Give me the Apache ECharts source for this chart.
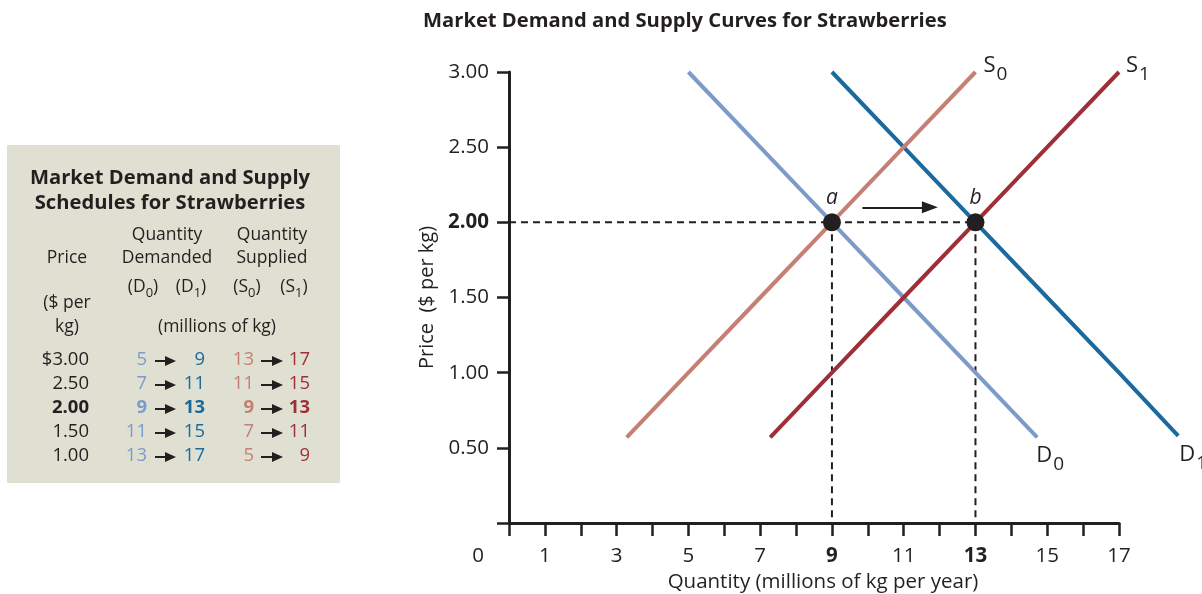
<!DOCTYPE html>
<html>
<head>
<meta charset="utf-8">
<script src="https://cdn.jsdelivr.net/npm/echarts@6/dist/echarts.min.js"></script>
<style>
  html, body { margin: 0; padding: 0; background: #ffffff; }
  #chart { width: 1202px; height: 594px; }
</style>
</head>
<body>
<div id="chart"></div>
<script>
// Demand and supply schedules: price ($ per kg) and quantities (millions of kg)
const prices   = [3.00, 2.50, 2.00, 1.50, 1.00];
const demandD0 = [5, 7, 9, 11, 13];
const demandD1 = [9, 11, 13, 15, 17];
const supplyS0 = [13, 11, 9, 7, 5];
const supplyS1 = [17, 15, 13, 11, 9];

// Lower ends of the drawn curves, [quantity, price]
const endD0 = [14.72, 0.57];
const endD1 = [18.65, 0.58];
const endS0 = [3.28, 0.57];
const endS1 = [7.28, 0.57];

// Equilibrium points a and b
const eqPrice = 2.00;
const eqQty   = [9, 13];
const eqNames = ['a', 'b'];

// Arrow showing the shift from a to b, [quantity, price]
const shiftArrow = [[9.85, 2.1], [11.73, 2.1]];

// Axis tick labels
const xTickLabels = [0, 1, 3, 5, 7, 9, 11, 13, 15, 17];
const yTickLabels = [0.5, 1, 1.5, 2, 2.5, 3];

// Text
const chartTitle = 'Market Demand and Supply Curves for Strawberries';
const xName = 'Quantity (millions of kg per year)';
const yName = 'Price  ($ per kg)';
const tableTitle = ['Market Demand and Supply', 'Schedules for Strawberries'];

// Styles
const FONT = '"Open Sans", "Liberation Sans", sans-serif';
const INK = '#231f20';
const PANEL = '#dfe0d1';
const C_D0 = '#7d9bc8';
const C_D1 = '#1a6a9e';
const C_S0 = '#c67f74';
const C_S1 = '#9e2f36';
const TICK_SIZE = 20.5;

function curvePoints(qs, end) {
  const pts = prices.map((p, i) => [qs[i], p]);
  pts.push(end);
  return pts;
}

// Curves drawn as polylines so they may run past the last x tick
function curveSeries(name, qs, end, color) {
  return {
    type: 'lines', name: name, coordinateSystem: 'cartesian2d', polyline: true,
    clip: false, silent: true, z: 3,
    data: [{ coords: curvePoints(qs, end) }],
    effect: { show: false },
    lineStyle: { color: color, width: 4, opacity: 1, cap: 'butt' }
  };
}

// Curve name labels with a subscript
function curveLabelSeries(letter, sub, point, offset) {
  return {
    type: 'scatter', data: [point], symbolSize: 1, clip: false, silent: true, z: 6,
    itemStyle: { color: 'rgba(0,0,0,0)', opacity: 1 },
    label: {
      show: true, position: 'inside', align: 'left', verticalAlign: 'middle',
      offset: offset, opacity: 1, color: INK,
      formatter: '{m|' + letter + '}{s|' + sub + '}',
      rich: {
        m: { fontFamily: FONT, fontSize: 22, color: INK, lineHeight: 24 },
        s: { fontFamily: FONT, fontSize: 19, color: INK, lineHeight: 19, padding: [18, 0, 0, 1] }
      }
    }
  };
}

const series = [
  // dashed guides at the equilibrium price
  {
    type: 'line', data: [[0, eqPrice], [eqQty[1], eqPrice]], symbol: 'none', silent: true, z: 2,
    lineStyle: { color: INK, width: 2, type: [7, 5] }
  }
].concat(eqQty.map(q => ({
  type: 'line', data: [[q, eqPrice], [q, 0]], symbol: 'none', silent: true, z: 2,
  lineStyle: { color: INK, width: 2, type: [7, 5] }
}))).concat([
  curveSeries('D0', demandD0, endD0, C_D0),
  curveSeries('D1', demandD1, endD1, C_D1),
  curveSeries('S0', supplyS0, endS0, C_S0),
  curveSeries('S1', supplyS1, endS1, C_S1),
  curveLabelSeries('S', '0', [supplyS0[0], prices[0]], [8, -6]),
  curveLabelSeries('S', '1', [supplyS1[0], prices[0]], [7, -6]),
  curveLabelSeries('D', '0', endD0, [-1, 18]),
  curveLabelSeries('D', '1', endD1, [1, 19]),
  {
    type: 'scatter', z: 7, silent: true,
    data: eqQty.map((q, i) => ({ value: [q, eqPrice], name: eqNames[i] })),
    symbol: 'circle', symbolSize: 18,
    itemStyle: { color: INK, opacity: 1 },
    label: {
      show: true, position: 'top', distance: 5, formatter: '{b}',
      fontFamily: FONT, fontStyle: 'italic', fontSize: 21, color: INK
    },
    markLine: {
      silent: true, animation: false,
      symbol: ['none', 'triangle'], symbolSize: [12, 16],
      label: { show: false },
      lineStyle: { color: INK, width: 2, type: 'solid', opacity: 1 },
      itemStyle: { color: INK },
      emphasis: { disabled: true },
      data: [[{ coord: shiftArrow[0] }, { coord: shiftArrow[1] }]]
    }
  }
]);

// Schedule table panel
const g = [];
g.push({ type: 'rect', shape: { x: 7, y: 145, width: 333, height: 338 }, style: { fill: PANEL }, silent: true });

function txt(x, y, text, size, opts) {
  g.push({
    type: 'text', x: x, y: y, silent: true,
    style: Object.assign({
      text: text, fill: INK, fontSize: size, fontFamily: FONT, fontWeight: 'normal',
      align: 'center', verticalAlign: 'middle', textAlign: 'center', textVerticalAlign: 'middle'
    }, opts || {})
  });
}
function tArrow(x1, x2, y) {
  g.push({ type: 'line', silent: true, shape: { x1: x1, y1: y, x2: x2 - 8, y2: y }, style: { stroke: INK, lineWidth: 2 } });
  g.push({ type: 'polygon', silent: true, shape: { points: [[x2 - 11, y - 5], [x2, y], [x2 - 11, y + 5]] }, style: { fill: INK } });
}
function subText(x, y, letter, sub) {
  txt(x, y, '{p|(}{m|' + letter + '}{s|' + sub + '}{p|)}', 17.5, {
    rich: {
      p: { fontFamily: FONT, fontSize: 17.5, fill: INK, lineHeight: 20 },
      m: { fontFamily: FONT, fontSize: 17.5, fill: INK, lineHeight: 20 },
      s: { fontFamily: FONT, fontSize: 13, fill: INK, lineHeight: 13, padding: [12, 0, 0, 0] }
    }
  });
}

txt(170, 178, tableTitle[0], 20.2, { fontWeight: 'bold' });
txt(170, 203, tableTitle[1], 20.2, { fontWeight: 'bold' });
txt(167, 235, 'Quantity', 17.5);
txt(272, 235, 'Quantity', 17.5);
txt(67, 258, 'Price', 17.5);
txt(167, 258, 'Demanded', 17.5);
txt(272, 258, 'Supplied', 17.5);
subText(143, 287, 'D', '0');
subText(191, 287, 'D', '1');
subText(247, 287, 'S', '0');
subText(294, 287, 'S', '1');
txt(67, 303, '($ per', 17.5);
txt(67, 327, 'kg)', 17.5);
txt(217, 327, '(millions of kg)', 17.5);

prices.forEach((p, i) => {
  const y = 360 + i * 24;
  const bold = p === eqPrice;
  const w = bold ? 'bold' : 'normal';
  const right = { align: 'right', textAlign: 'right', fontWeight: w };
  txt(89, y, (i === 0 ? '$' : '') + p.toFixed(2), 18.5, right);
  txt(147, y, String(demandD0[i]), 18.5, Object.assign({}, right, { fill: C_D0 }));
  tArrow(155, 176, y + 1);
  txt(205, y, String(demandD1[i]), 18.5, Object.assign({}, right, { fill: C_D1 }));
  txt(254, y, String(supplyS0[i]), 18.5, Object.assign({}, right, { fill: C_S0 }));
  tArrow(261, 283, y + 1);
  txt(310, y, String(supplyS1[i]), 18.5, Object.assign({}, right, { fill: C_S1 }));
});

const option = {
  animation: false,
  backgroundColor: '#ffffff',
  title: {
    text: chartTitle, left: 418, top: 6,
    textStyle: { fontFamily: FONT, fontSize: 20.2, fontWeight: 'bold', color: INK }
  },
  grid: { left: 509, top: 72, width: 610, height: 451, containLabel: false, outerBoundsMode: 'none' },
  xAxis: {
    type: 'value', min: 0, max: 17, interval: 1,
    axisLine: { show: true, onZero: false, lineStyle: { color: INK, width: 3 } },
    axisTick: { show: true, length: 13, lineStyle: { color: INK, width: 2.5 } },
    splitLine: { show: false },
    axisLabel: {
      margin: 23, fontFamily: FONT, fontSize: TICK_SIZE, color: INK,
      formatter: function (v) {
        if (xTickLabels.indexOf(v) < 0) return '';
        if (v === 0) return '{z|0}';
        if (eqQty.indexOf(v) >= 0) return '{b|' + v + '}';
        return String(v);
      },
      rich: {
        z: { fontFamily: FONT, fontSize: TICK_SIZE, color: INK, padding: [0, 62, 0, 0] },
        b: { fontFamily: FONT, fontSize: TICK_SIZE, color: INK, fontWeight: 'bold' }
      }
    },
    name: xName, nameLocation: 'middle', nameGap: 49,
    nameTextStyle: { fontFamily: FONT, fontSize: 20.5, color: INK, padding: [0, 0, 0, 18] }
  },
  yAxis: {
    type: 'value', min: 0, max: 3, interval: 0.5,
    axisLine: { show: true, onZero: false, lineStyle: { color: INK, width: 3 } },
    axisTick: { show: true, length: 12, lineStyle: { color: INK, width: 2.5 } },
    splitLine: { show: false },
    axisLabel: {
      margin: 20, fontFamily: FONT, fontSize: TICK_SIZE, color: INK,
      formatter: function (v) {
        if (yTickLabels.indexOf(v) < 0) return '';
        if (v === eqPrice) return '{b|' + v.toFixed(2) + '}';
        return v.toFixed(2);
      },
      rich: {
        b: { fontFamily: FONT, fontSize: TICK_SIZE, color: INK, fontWeight: 'bold' }
      }
    },
    name: yName, nameLocation: 'middle', nameGap: 71, nameRotate: 90,
    nameTextStyle: { fontFamily: FONT, fontSize: 20, color: INK }
  },
  graphic: g,
  series: series
};

const chart = echarts.init(document.getElementById('chart'), null, { renderer: 'canvas' });
chart.setOption(option);
</script>
</body>
</html>
